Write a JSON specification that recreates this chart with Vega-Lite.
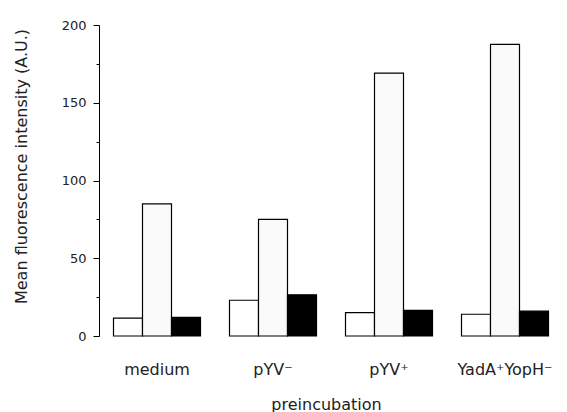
{
  "$schema": "https://vega.github.io/schema/vega-lite/v6.json",
  "autosize": {"type": "none"},
  "padding": {"left": 99, "top": 25, "right": 4, "bottom": 76},
  "width": 464,
  "height": 311,
  "background": "white",
  "config": {"view": {"stroke": null}, "font": "DejaVu Sans"},
  "data": {
    "values": [
      {"group": "medium", "series": "A", "value": 11.5},
      {"group": "medium", "series": "B", "value": 85},
      {"group": "medium", "series": "C", "value": 12},
      {"group": "pYV⁻", "series": "A", "value": 23},
      {"group": "pYV⁻", "series": "B", "value": 75},
      {"group": "pYV⁻", "series": "C", "value": 26.5},
      {"group": "pYV⁺", "series": "A", "value": 15},
      {"group": "pYV⁺", "series": "B", "value": 169},
      {"group": "pYV⁺", "series": "C", "value": 16.5},
      {"group": "YadA⁺YopH⁻", "series": "A", "value": 14},
      {"group": "YadA⁺YopH⁻", "series": "B", "value": 187.5},
      {"group": "YadA⁺YopH⁻", "series": "C", "value": 16}
    ]
  },
  "mark": {"type": "bar", "stroke": "black", "strokeWidth": 1.2},
  "encoding": {
    "x": {
      "field": "group",
      "type": "nominal",
      "sort": null,
      "scale": {"paddingInner": 0.25, "paddingOuter": 0.125},
      "axis": {
        "title": "preincubation",
        "labelAngle": 0,
        "domain": false,
        "ticks": false,
        "labelPadding": 25,
        "labelFontSize": 16,
        "labelColor": "#222",
        "titleFontSize": 16,
        "titleFontWeight": "normal",
        "titleColor": "#222",
        "titleBaseline": "alphabetic",
        "titleY": 73,
        "titleX": 227
      }
    },
    "xOffset": {"field": "series", "type": "nominal", "scale": {"padding": 0, "paddingInner": 0, "paddingOuter": 0}},
    "y": {
      "field": "value",
      "type": "quantitative",
      "scale": {"domain": [0, 200], "nice": false},
      "axis": {
        "title": "Mean fluorescence intensity (A.U.)",
        "values": [0, 25, 50, 75, 100, 125, 150, 175, 200],
        "labelExpr": "datum.value % 50 === 0 ? datum.label : ''",
        "grid": false,
        "domainColor": "black",
        "tickColor": "black",
        "tickSize": {"condition": {"test": "datum.value % 50 === 0", "value": 6}, "value": 3},
        "labelPadding": 7,
        "labelFontSize": 13,
        "labelColor": "#222",
        "titleFontSize": 16,
        "titleFontWeight": "normal",
        "titleColor": "#222",
        "titleAngle": -90,
        "titleBaseline": "alphabetic",
        "titleX": -73,
        "titleY": 141,
        "titleAlign": "center"
      }
    },
    "color": {
      "field": "series",
      "type": "nominal",
      "scale": {"domain": ["A", "B", "C"], "range": ["#ffffff", "#fafafa", "#000000"]},
      "legend": null
    }
  }
}
